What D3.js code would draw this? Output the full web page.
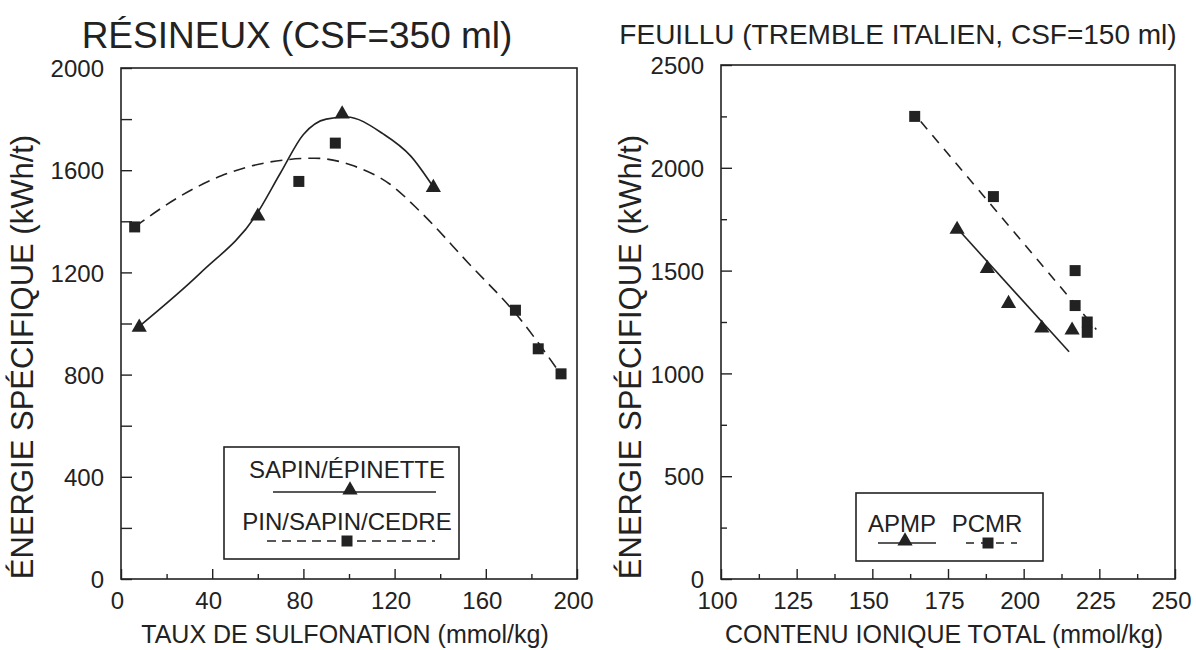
<!DOCTYPE html>
<html>
<head>
<meta charset="utf-8">
<script src="https://cdn.jsdelivr.net/npm/d3@7"></script>
<style>
  body { margin: 0; background: #fff; }
  svg text { font-family: "Liberation Sans", Arial, Helvetica, sans-serif; fill: #222; }
</style>
</head>
<body>
<div id="chart"></div>
<script>
// left panel: résineux
var sapinPts = [[8, 985], [60, 1420], [97, 1820], [137, 1532]];
var pinPts = [[6, 1378], [78, 1556], [94, 1706], [173, 1052], [183, 901], [193, 803]];
// smooth curves
var sapinCurve = [[8, 989], [35, 1199], [59, 1421], [70, 1590], [80, 1740], [90, 1800], [99, 1808], [115, 1742], [127, 1656], [137, 1534]];
var pinCurve = [[6, 1378], [25, 1493], [44, 1578], [64, 1630], [85, 1647], [102, 1617], [118, 1545], [131, 1440], [152, 1240], [174, 1029], [193, 800]];

// right panel: feuillu
var apmpPts = [[178, 1700], [188, 1510], [195, 1340], [206, 1220], [216, 1210]];
var pcmrPts = [[164, 2250], [190, 1860], [217, 1500], [217, 1330], [221, 1250], [221, 1200]];
var apmpLine = [[179, 1690], [215, 1105]];
var pcmrLine = [[166, 2225], [224, 1214]];

var leftXTicks = [0, 40, 80, 120, 160, 200];
var leftYTicks = [0, 400, 800, 1200, 1600, 2000];
var rightXTicks = [100, 125, 150, 175, 200, 225, 250];
var rightYTicks = [0, 500, 1000, 1500, 2000, 2500];

var ink = "#222";
var svg = d3.select("#chart").append("svg")
  .attr("width", 1196)
  .attr("height", 650);

var triSym = d3.symbol().type(d3.symbolTriangle).size(100);
var sqSym = d3.symbol().type(d3.symbolSquare).size(121);

// draws one framed panel with inward ticks
function drawPanel(p) {
  var x = d3.scaleLinear().domain(p.xDomain).range(p.xRange);
  var y = d3.scaleLinear().domain(p.yDomain).range(p.yRange);
  var g = svg.append("g");

  // minor ticks first (no labels)
  g.append("g")
    .attr("transform", `translate(0,${p.yRange[0]})`)
    .call(d3.axisBottom(x).tickValues(p.xMinor).tickSize(-5).tickFormat(""))
    .call(s => s.select(".domain").remove());
  g.append("g")
    .attr("transform", `translate(${p.xRange[0]},0)`)
    .call(d3.axisLeft(y).tickValues(p.yMinor).tickSize(-p.yMinorLen).tickFormat(""))
    .call(s => s.select(".domain").remove());

  var xa = g.append("g")
    .attr("transform", `translate(0,${p.yRange[0]})`)
    .call(d3.axisBottom(x).tickValues(p.xTicks).tickSize(-10).tickPadding(13).tickFormat(d3.format("d")));
  xa.select(".domain").remove();
  xa.selectAll("text").attr("font-size", 24).attr("dx", -4);

  var ya = g.append("g")
    .attr("transform", `translate(${p.xRange[0]},0)`)
    .call(d3.axisLeft(y).tickValues(p.yTicks).tickSize(-11).tickPadding(17).tickFormat(d3.format("d")));
  ya.select(".domain").remove();
  ya.selectAll("text").attr("font-size", 24).attr("dy", "0.36em");

  g.selectAll(".tick line").attr("stroke", ink).attr("stroke-width", 1.4);

  g.append("rect")
    .attr("x", p.xRange[0]).attr("y", p.yRange[1])
    .attr("width", p.xRange[1] - p.xRange[0])
    .attr("height", p.yRange[0] - p.yRange[1])
    .attr("fill", "none").attr("stroke", ink).attr("stroke-width", 1.6);

  g.append("text")
    .attr("x", p.titleX).attr("y", p.titleY)
    .attr("text-anchor", "middle").attr("font-size", p.titleSize)
    .text(p.title);

  g.append("text")
    .attr("x", (p.xRange[0] + p.xRange[1]) / 2 - 4).attr("y", 643)
    .attr("text-anchor", "middle").attr("font-size", 25)
    .text(p.xLabel);

  g.append("text")
    .attr("transform", `translate(${p.yLabelX},357) rotate(-90)`)
    .attr("text-anchor", "middle").attr("font-size", 31)
    .text("ÉNERGIE SPÉCIFIQUE (kWh/t)");

  return { g: g, x: x, y: y };
}

function drawLine(panel, pts, curve, dash) {
  var line = d3.line()
    .x(d => panel.x(d[0]))
    .y(d => panel.y(d[1]))
    .curve(curve);
  panel.g.append("path")
    .datum(pts)
    .attr("d", line)
    .attr("fill", "none")
    .attr("stroke", ink)
    .attr("stroke-width", 1.6)
    .attr("stroke-dasharray", dash);
}

function drawMarks(panel, pts, sym) {
  panel.g.selectAll(null)
    .data(pts)
    .enter()
    .append("path")
    .attr("d", sym)
    .attr("fill", ink)
    .attr("transform", d => `translate(${panel.x(d[0])},${panel.y(d[1])})`);
}

var left = drawPanel({
  xDomain: [0, 200], xRange: [121, 577],
  yDomain: [0, 2000], yRange: [579, 68],
  xTicks: leftXTicks, xMinor: [20, 60, 100, 140, 180],
  yTicks: leftYTicks, yMinor: [200, 600, 1000, 1400, 1800], yMinorLen: 11,
  title: "RÉSINEUX (CSF=350 ml)", titleX: 297, titleY: 48, titleSize: 37,
  xLabel: "TAUX DE SULFONATION (mmol/kg)", yLabelX: 33
});

drawLine(left, sapinCurve, d3.curveMonotoneX, null);
drawLine(left, pinCurve, d3.curveMonotoneX, "12,7");
drawMarks(left, sapinPts, triSym);
drawMarks(left, pinPts, sqSym);

var right = drawPanel({
  xDomain: [100, 250], xRange: [721, 1175],
  yDomain: [0, 2500], yRange: [579, 65],
  xTicks: rightXTicks, xMinor: [112.5, 137.5, 162.5, 187.5, 212.5, 237.5],
  yTicks: rightYTicks, yMinor: [250, 750, 1250, 1750, 2250], yMinorLen: 6,
  title: "FEUILLU (TREMBLE ITALIEN, CSF=150 ml)", titleX: 898, titleY: 44, titleSize: 28,
  xLabel: "CONTENU IONIQUE TOTAL (mmol/kg)", yLabelX: 641
});

drawLine(right, apmpLine, d3.curveLinear, null);
drawLine(right, pcmrLine, d3.curveLinear, "10,8");
drawMarks(right, apmpPts, triSym);
drawMarks(right, pcmrPts, sqSym);

// legends
function legendBox(x0, y0, w, h) {
  svg.append("rect")
    .attr("x", x0).attr("y", y0).attr("width", w).attr("height", h)
    .attr("fill", "#fff").attr("stroke", ink).attr("stroke-width", 1.6);
}
function legendKey(x1, x2, ym, xm, sym, dash) {
  svg.append("line")
    .attr("x1", x1).attr("x2", x2).attr("y1", ym).attr("y2", ym)
    .attr("stroke", ink).attr("stroke-width", 1.5)
    .attr("stroke-dasharray", dash);
  svg.append("path").attr("d", sym).attr("fill", ink)
    .attr("transform", `translate(${xm},${ym - (sym === triSym ? 2 : 0)})`);
}
function legendText(x, y, txt) {
  svg.append("text").attr("x", x).attr("y", y)
    .attr("text-anchor", "middle").attr("font-size", 24).text(txt);
}

legendBox(224, 447, 235, 112);
legendText(347, 478, "SAPIN/ÉPINETTE");
legendKey(273, 436, 492, 350, triSym, null);
legendText(347, 530, "PIN/SAPIN/CEDRE");
legendKey(267, 435, 541, 347, sqSym, "9,6");

legendBox(856, 493, 187, 68);
legendText(902, 532, "APMP");
legendText(987, 532, "PCMR");
legendKey(878, 936, 543, 905, triSym, null);
legendKey(966, 1017, 543, 988, sqSym, "8,7");
</script>
</body>
</html>
